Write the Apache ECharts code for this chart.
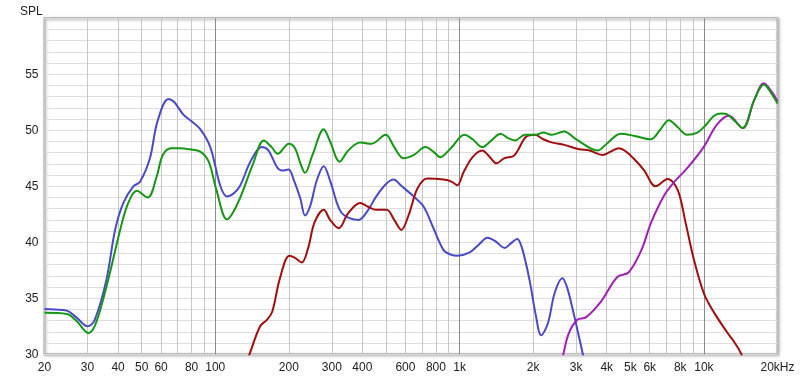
<!DOCTYPE html>
<html>
<head>
<meta charset="utf-8">
<script src="https://cdn.jsdelivr.net/npm/echarts@6/dist/echarts.min.js"></script>
<style>html,body{margin:0;padding:0;background:#fff}#c{width:800px;height:378px}</style>
</head>
<body>
<div id="c"></div>
<script>
// ---- data (frequency in Hz, level in dB SPL) ----
const blueF = [20,22,24.7,27,30,32,35.8,38.9,42,46.2,49.2,54,58,64.3,68,74,80,86.8,95.4,105,111.6,118,126,140,155,165,179,188,199.6,210,223,233,245,260,278,295,323,350,386,420,456,500,536,580,648,712,780,860,920,978,1100,1200,1300,1400,1530,1620,1720,1800,1934,2050,2156,2300,2450,2636,2750,2890,3188,3350];
const blueV = [34.05,34.0,33.9,33.3,32.5,33.0,36.6,41.1,43.5,45.0,45.4,47.5,50.8,52.8,52.5,51.4,50.8,50.1,48.5,45.0,44.1,44.3,45.0,47.3,48.5,48.2,46.7,46.4,46.5,45.5,43.9,42.4,43.3,45.5,46.8,45.5,42.9,42.2,42.0,42.8,44.1,45.2,45.6,45.0,44.1,43.2,41.3,39.3,38.9,38.8,39.1,39.8,40.4,40.1,39.5,39.9,40.3,39.5,36.6,33.5,31.7,32.8,35.5,36.8,36.0,34.2,30.1,28.0];

const greenF = [20,24.7,27,30.3,32.5,36.4,40.8,44,47.7,52.9,57.6,61,66,72,78.6,86.8,94,101,111.6,117,126,143,158,170,180,200,212,223,233,250,278,295,323,350,392,436,498,540,590,650,724,780,834,920,1047,1130,1237,1350,1470,1580,1688,1850,2050,2200,2380,2676,3000,3672,4000,4562,5200,6060,6600,7180,7800,8524,9400,10200,11000,11760,12500,13400,14400,16060,17580,19000,20000];
const greenV = [33.7,33.6,33.0,31.9,32.8,36.6,41.1,43.5,44.6,44.0,45.9,47.8,48.4,48.4,48.3,48.1,47.2,44.7,42.05,42.5,43.9,47.05,49.1,48.5,47.9,48.8,48.4,47.05,46.2,47.8,50.1,49.0,47.2,48.2,48.9,48.8,49.6,48.5,47.5,47.8,48.5,48.1,47.6,48.4,49.6,49.2,48.5,49.1,49.7,49.3,49.1,49.6,49.6,49.8,49.6,49.9,49.2,48.2,48.8,49.7,49.5,49.2,50.0,50.9,50.3,49.6,49.8,50.5,51.3,51.5,51.4,50.8,50.2,52.7,54.1,53.2,52.4];

const redF = [125,138,152.6,163,171,184,201,212,226,240,255,278,295,320,350,392,420,456,503,540,577,620,672,736,860,930,978,1040,1130,1237,1330,1415,1520,1660,1730,1867,2038,2200,2400,2676,3097,3400,3845,4150,4487,4800,5145,5680,6345,7100,7800,8420,9110,10010,11020,12500,13300,14160,15000];
const redV = [27.5,30.0,32.5,33.1,33.8,36.8,38.8,38.6,38.2,39.5,41.8,42.9,42.0,41.25,42.6,43.5,43.2,42.9,42.9,42.0,41.1,42.5,44.8,45.7,45.6,45.4,45.1,46.3,47.6,48.2,47.6,47.05,47.5,47.7,48.2,49.4,49.6,49.2,48.9,48.7,48.3,48.2,47.8,48.1,48.4,48.1,47.5,46.45,45.0,45.65,44.7,41.7,38.4,35.4,33.7,31.9,31.1,30.1,28.5];

const purpleF = [2550,2658,2800,3040,3290,3787,4420,4910,5545,6060,6880,7560,8524,9970,11300,12650,14400,16060,17580,19000,20000];
const purpleV = [28.0,30.0,31.9,33.1,33.3,34.7,36.9,37.3,39.3,41.7,44.2,45.4,46.6,48.5,50.5,51.3,50.2,52.7,54.2,53.4,52.6];

// ---- axis ticks ----
const xLabelFreqs = [20,30,40,50,60,80,100,200,300,400,600,800,1000,2000,3000,4000,5000,6000,8000,10000,20000];
const xMinorFreqs = [20,30,40,50,60,70,80,90,100,200,300,400,500,600,700,800,900,1000,2000,3000,4000,5000,6000,7000,8000,9000,10000,20000];
const xDecadeFreqs = [100,1000,10000];
const yMin = 30, yMax = 60;

const L = Math.log10;
const toData = (F, V) => F.map((f, i) => [L(f), V[i]]);
const fmtFreq = v => {
  const f = Math.round(Math.pow(10, v));
  if (f === 20000) return '20kHz';
  return f >= 1000 ? (f / 1000) + 'k' : String(f);
};

const font = { fontFamily: 'Liberation Sans, Arial, sans-serif', fontSize: 12, color: '#222' };
const hiddenAxisBits = { axisLine: { show: false }, axisTick: { show: false }, axisLabel: { show: false } };
const xBase = { type: 'value', min: L(20), max: L(20000), gridIndex: 0 };

const mkLine = (name, F, V, color) => ({
  name, type: 'line', data: toData(F, V), showSymbol: false, smooth: 0.35,
  lineStyle: { color, width: 2 }, itemStyle: { color }, clip: true, z: 5,
  xAxisIndex: 0, yAxisIndex: 0
});

const chart = echarts.init(document.getElementById('c'), null, { renderer: 'canvas' });
chart.setOption({
  animation: false,
  backgroundColor: '#fff',
  title: { text: 'SPL', left: 15, top: 1, textStyle: { ...font, fontWeight: 'normal' } },
  grid: {
    left: 44.5, right: 22.5, top: 18.3, bottom: 23.7,
    show: true, borderWidth: 2, borderColor: '#a8a8a8', backgroundColor: '#fff',
    shadowBlur: 3, shadowColor: 'rgba(0,0,0,0.25)', shadowOffsetX: 1, shadowOffsetY: 1
  },
  xAxis: [
    { ...xBase, position: 'bottom', axisLine: { show: false }, axisTick: { show: false },
      splitLine: { show: false },
      axisLabel: { ...font, margin: 7, customValues: xLabelFreqs.map(L), formatter: fmtFreq, showMinLabel: true, showMaxLabel: true } },
    { ...xBase, position: 'bottom', ...hiddenAxisBits,
      axisTick: { show: false, customValues: xMinorFreqs.map(L) },
      splitLine: { show: true, lineStyle: { color: '#c6c6c6', width: 1 } } },
    { ...xBase, position: 'top', ...hiddenAxisBits,
      axisTick: { show: false, customValues: xDecadeFreqs.map(L) },
      splitLine: { show: true, lineStyle: { color: '#8a8a8a', width: 1 } } }
  ],
  yAxis: [
    { type: 'value', min: yMin, max: yMax, interval: 5, position: 'left',
      axisLine: { show: false }, axisTick: { show: false },
      axisLabel: { ...font, margin: 6, formatter: v => (v === 60 ? '' : String(v)) },
      splitLine: { show: true, lineStyle: { color: '#c6c6c6', width: 1 } } },
    { type: 'value', min: yMin, max: yMax, interval: 1, position: 'right', ...hiddenAxisBits,
      splitLine: { show: true, lineStyle: { color: '#dedede', width: 1 } } }
  ],
  series: [
    mkLine('blue', blueF, blueV, '#4a4ac6'),
    mkLine('red', redF, redV, '#a00e0e'),
    mkLine('purple', purpleF, purpleV, '#a020b4'),
    mkLine('green', greenF, greenV, '#159615')
  ]
});
</script>
</body>
</html>
